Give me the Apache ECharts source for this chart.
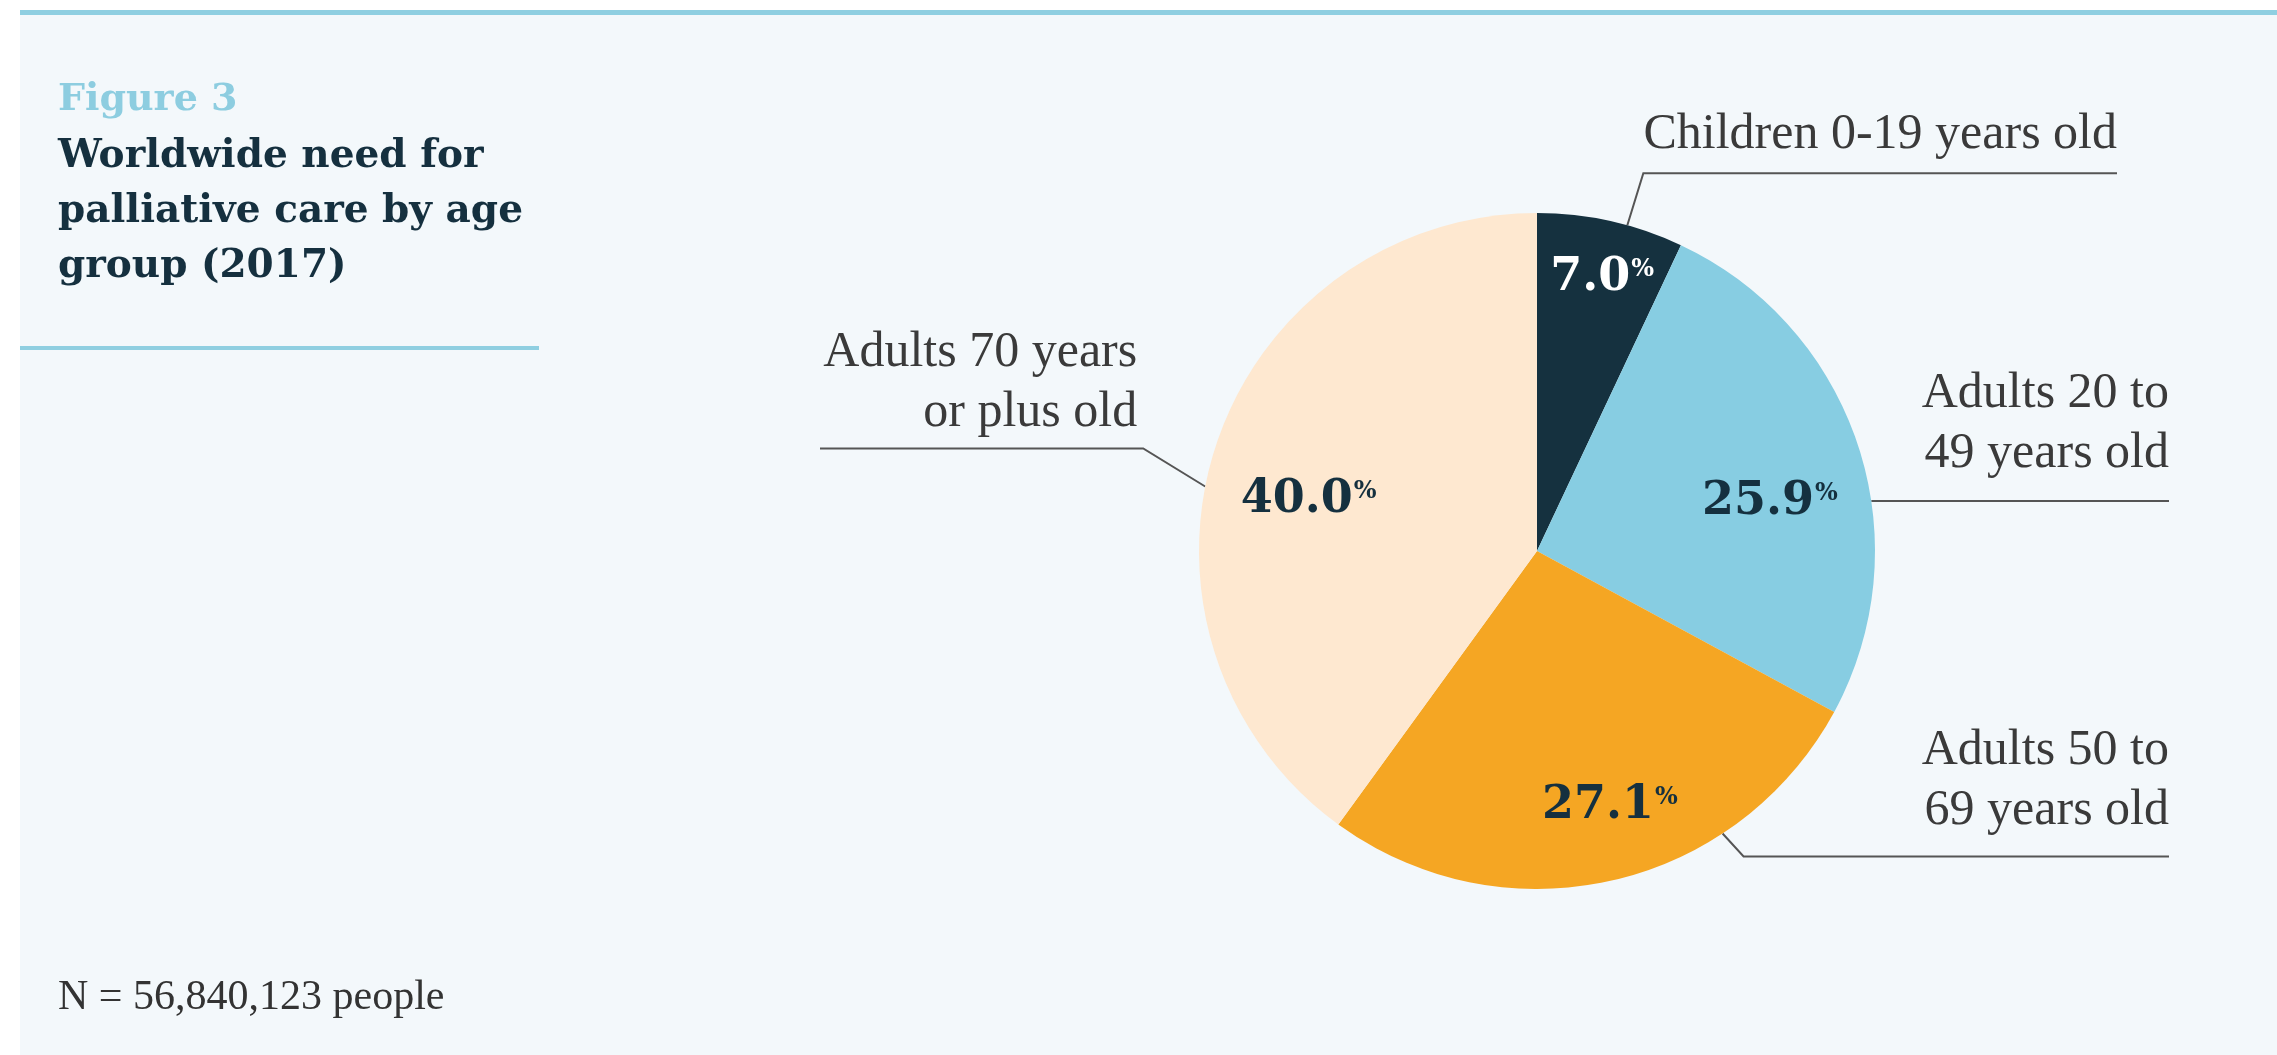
<!DOCTYPE html>
<html>
<head>
<meta charset="utf-8">
<script src="https://cdn.jsdelivr.net/npm/echarts@6/dist/echarts.min.js"></script>
<style>
html,body{margin:0;padding:0;background:#ffffff;}
#chart{width:2277px;height:1055px;}
</style>
</head>
<body>
<div id="chart"></div>
<script>
// ---- data ----
const categories = ['Children 0-19 years old', 'Adults 20 to\n49 years old', 'Adults 50 to\n69 years old', 'Adults 70 years\nor plus old'];
const shares = [7.0, 25.9, 27.1, 40.0];
const sliceColors = ['#15313f', '#87cde2', '#f5a623', '#fee8d0'];
const valueLabelColors = ['#ffffff', '#15303f', '#15303f', '#15303f'];
const figureLabel = 'Figure 3';
const titleText = 'Worldwide need for\npalliative care by age\ngroup (2017)';
const noteText = 'N = 56,840,123 people';

// ---- layout / style ----
const CX = 1537, CY = 551, R = 338;
const LEADERS = [
  {angle: 15.5, bend: [16, -52], endX: 2117, gap: 8},
  {angle: 81.5, bend: [0, 0], endX: 2169, gap: 17},
  {angle: 146.7, bend: [21, 23], endX: 2169, gap: 16},
  {angle: 281, bend: [-62, -38], endX: 820, gap: 6}
];
const VALUE_POS = [
  {r: 281, dAngle: 0.8},
  {r: 238, dAngle: 6.3},
  {r: 265, dAngle: -3.2},
  {r: 234, dAngle: -5.4}
];
const total = shares.reduce((a, b) => a + b, 0);
const midAngles = shares.map((v, i) => {
  const before = shares.slice(0, i).reduce((a, b) => a + b, 0);
  return (before + v / 2) / total * 360;
});

const data = categories.map((c, i) => ({
  name: c, value: shares[i], itemStyle: {color: sliceColors[i]}
}));
const valueData = categories.map((c, i) => ({
  name: c, value: shares[i],
  label: {rich: {v: {color: valueLabelColors[i]}, p: {color: valueLabelColors[i]}}}
}));

const chart = echarts.init(document.getElementById('chart'), null, {renderer: 'canvas'});
chart.setOption({
  animation: false,
  backgroundColor: 'transparent',
  graphic: [
    {type: 'rect', shape: {x: 20, y: 10, width: 2277 - 20, height: 1055 - 10}, style: {fill: '#f3f8fb'}, z: -10},
    {type: 'rect', shape: {x: 20, y: 10, width: 2277 - 20, height: 5}, style: {fill: '#8fcfe1'}, z: -9},
    {type: 'rect', shape: {x: 20, y: 346, width: 519, height: 4}, style: {fill: '#8fcfe1'}, z: -9}
  ],
  title: [
    {text: figureLabel, left: 58, top: 79, padding: 0,
     textStyle: {fontFamily: 'DejaVu Serif', fontWeight: 'bold', fontSize: 38, color: '#8dcde0', lineHeight: 42}},
    {text: titleText, left: 58, top: 129, padding: 0,
     textStyle: {fontFamily: 'DejaVu Serif', fontWeight: 'bold', fontSize: 39, color: '#15303f', lineHeight: 55}},
    {text: noteText, left: 58, top: 975, padding: 0,
     textStyle: {fontFamily: 'Liberation Serif', fontWeight: 'normal', fontSize: 42, color: '#333333', lineHeight: 46}}
  ],
  series: [
    {
      type: 'pie',
      center: [CX, CY],
      radius: [0, R],
      startAngle: 90,
      clockwise: true,
      silent: true,
      data: data,
      itemStyle: {borderWidth: 0},
      label: {
        show: true, position: 'outside', formatter: '{b}',
        fontFamily: 'Liberation Serif', fontSize: 50, lineHeight: 60, color: '#3a3a3a'
      },
      labelLine: {show: true, length: 20, length2: 20, smooth: false,
        lineStyle: {color: '#555555', width: 2}},
      labelLayout: function (p) {
        const s = LEADERS[p.dataIndex];
        const a = s.angle * Math.PI / 180;
        const start = [CX + R * Math.sin(a), CY - R * Math.cos(a)];
        const bend = [start[0] + s.bend[0], start[1] + s.bend[1]];
        const end = [s.endX, bend[1]];
        const right = s.endX > bend[0];
        return {
          x: right ? s.endX : bend[0] - 6,
          y: bend[1] - s.gap,
          align: 'right',
          verticalAlign: 'bottom',
          labelLinePoints: [start, bend, end]
        };
      }
    },
    {
      type: 'pie',
      center: [CX, CY],
      radius: [0, R],
      startAngle: 90,
      clockwise: true,
      silent: true,
      z: 3,
      data: valueData,
      itemStyle: {color: 'rgba(0,0,0,0)', borderWidth: 0},
      labelLine: {show: false},
      label: {
        show: true, position: 'inside',
        formatter: p => '{v|' + p.value.toFixed(1) + '}{p|%}',
        rich: {
          v: {fontFamily: 'DejaVu Serif', fontWeight: 'bold', fontSize: 46, lineHeight: 50},
          p: {fontFamily: 'DejaVu Serif', fontWeight: 'bold', fontSize: 24, lineHeight: 24, verticalAlign: 'top', padding: [5, 0, 0, 1]}
        }
      },
      labelLayout: function (p) {
        const s = VALUE_POS[p.dataIndex];
        const ang = (midAngles[p.dataIndex] + s.dAngle) * Math.PI / 180;
        return {
          x: CX + s.r * Math.sin(ang),
          y: CY - s.r * Math.cos(ang),
          align: 'center',
          verticalAlign: 'middle'
        };
      }
    }
  ]
});
</script>
</body>
</html>
